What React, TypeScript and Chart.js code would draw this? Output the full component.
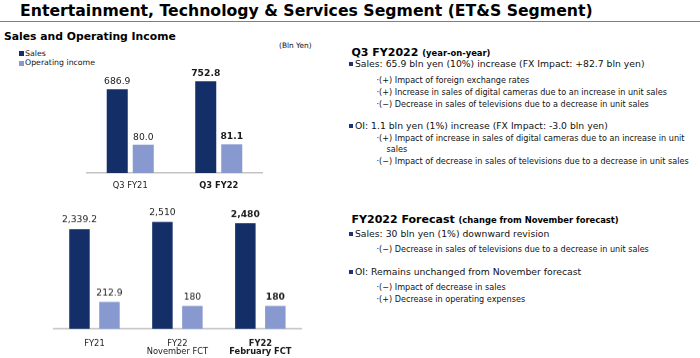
import React, { useEffect, useRef } from "react";
import { Chart, registerables } from "chart.js";

Chart.register(...registerables);

// ---------- data ----------
const seriesNames = ["Sales", "Operating income"];

const quarterCategories = ["Q3 FY21", "Q3 FY22"];
const quarterSales = [686.9, 752.8];
const quarterOI = [80.0, 81.1];
const quarterDecimals = [1, 1];
const quarterHighlight = 1;

const yearCategories = [["FY21"], ["FY22", "November FCT"], ["FY22", "February FCT"]];
const yearSales = [2339.2, 2510, 2480];
const yearOI = [212.9, 180, 180];
const yearDecimals = [1, 0, 0];
const yearHighlight = 2;

// ---------- styles ----------
const SALES_COLOR = "#142f68";
const OI_COLOR = "#8899d0";
const BULLET_COLOR = "#1c3471";
const MAIN_FONT = '"DejaVu Sans", Verdana, sans-serif';

function makeValueLabelPlugin(decimals: number[], highlight: number, size: number, offset: number) {
  return {
    id: "valueLabels",
    afterDatasetsDraw(chart: any) {
      const ctx = chart.ctx;
      chart.data.datasets.forEach((ds: any, di: number) => {
        const meta = chart.getDatasetMeta(di);
        meta.data.forEach((bar: any, i: number) => {
          const v = ds.data[i] as number;
          const d = decimals[i];
          const text = v.toLocaleString("en-US", { minimumFractionDigits: d, maximumFractionDigits: d });
          ctx.save();
          ctx.font = `${i === highlight ? "bold " : ""}${size}px ${MAIN_FONT}`;
          ctx.fillStyle = "#1a1a1a";
          ctx.textAlign = "center";
          ctx.textBaseline = "alphabetic";
          ctx.fillText(text, bar.x, bar.y - offset);
          ctx.restore();
        });
      });
    },
  };
}

type BarProps = {
  left: number;
  top: number;
  width: number;
  height: number;
  axisHeight: number;
  labels: any[];
  sales: number[];
  oi: number[];
  salesMax: number;
  oiMax: number;
  catPct: number;
  barPct: number;
  decimals: number[];
  highlight: number;
  tickPad: number;
  tickSize: number;
  tickLineHeight: number;
  labelSize: number;
  labelOffset: number;
};

function BarChart(p: BarProps) {
  const ref = useRef<HTMLCanvasElement | null>(null);
  useEffect(() => {
    if (!ref.current) return;
    const chart = new Chart(ref.current, {
      type: "bar",
      data: {
        labels: p.labels,
        datasets: [
          {
            label: seriesNames[0],
            data: p.sales,
            backgroundColor: SALES_COLOR,
            yAxisID: "y",
            categoryPercentage: p.catPct,
            barPercentage: p.barPct,
          },
          {
            label: seriesNames[1],
            data: p.oi,
            backgroundColor: OI_COLOR,
            yAxisID: "y1",
            categoryPercentage: p.catPct,
            barPercentage: p.barPct,
          },
        ],
      },
      options: {
        responsive: false,
        animation: false,
        layout: { padding: 0 },
        plugins: { legend: { display: false }, tooltip: { enabled: false }, title: { display: false } },
        scales: {
          x: {
            grid: { display: false, drawTicks: false },
            border: { display: true, color: "#c4c4c4", width: 1.5 },
            ticks: {
              padding: p.tickPad,
              color: "#1a1a1a",
              maxRotation: 0,
              autoSkip: false,
              font: (ctx: any) => ({
                family: MAIN_FONT,
                size: p.tickSize,
                lineHeight: p.tickLineHeight,
                weight: ctx.index === p.highlight ? "bold" : "normal",
              }),
            },
            afterFit: (scale: any) => {
              scale.height = p.axisHeight;
            },
          },
          y: { display: false, min: 0, max: p.salesMax },
          y1: { display: false, min: 0, max: p.oiMax, position: "right" },
        },
      },
      plugins: [makeValueLabelPlugin(p.decimals, p.highlight, p.labelSize, p.labelOffset)],
    } as any);
    return () => chart.destroy();
  }, []);
  return (
    <canvas
      ref={ref}
      width={p.width}
      height={p.height}
      style={{ position: "absolute", left: p.left, top: p.top, width: p.width, height: p.height }}
    />
  );
}

function Line(props: {
  x: number;
  cy: number;
  size: number;
  lh?: number;
  bold?: boolean;
  children: any;
  style?: any;
}) {
  const lh = props.lh ?? 14;
  return (
    <div
      style={{
        position: "absolute",
        left: props.x,
        top: props.cy - lh / 2,
        height: lh,
        lineHeight: `${lh}px`,
        fontSize: props.size,
        fontFamily: MAIN_FONT,
        fontWeight: props.bold ? "bold" : "normal",
        whiteSpace: "nowrap",
        color: "#111",
        ...props.style,
      }}
    >
      {props.children}
    </div>
  );
}

function Bullet({ x, cy }: { x: number; cy: number }) {
  return (
    <div
      style={{ position: "absolute", left: x, top: cy - 2, width: 4, height: 4, background: BULLET_COLOR }}
    />
  );
}

const MAIN = 9.25;
const SUB = 8.1;
const HEAD = 11;
const HEAD_SMALL = 8.4;

export default function App() {
  return (
    <div
      style={{
        position: "absolute",
        left: 0,
        top: 0,
        width: 700,
        height: 358,
        overflow: "hidden",
        background: "#fff",
        fontFamily: MAIN_FONT,
      }}
    >
      {/* title */}
      <Line x={20} cy={10.5} size={15.7} lh={20} bold style={{ color: "#000" }}>
        Entertainment, Technology &amp; Services Segment (ET&amp;S Segment)
      </Line>
      <div style={{ position: "absolute", left: 0, top: 20.5, width: 700, height: 1, background: "#808080" }} />

      {/* left heading */}
      <Line x={4} cy={37} size={10.8} bold style={{ color: "#000" }}>
        Sales and Operating Income
      </Line>
      <Line x={279} cy={46} size={7.4} lh={10}>
        (Bln Yen)
      </Line>

      {/* legend */}
      <div style={{ position: "absolute", left: 19, top: 51.2, width: 5, height: 5, background: SALES_COLOR }} />
      <Line x={25} cy={53.7} size={7.8} lh={10}>
        {seriesNames[0]}
      </Line>
      <div style={{ position: "absolute", left: 19, top: 60.8, width: 5, height: 5, background: OI_COLOR }} />
      <Line x={25} cy={63.3} size={7.8} lh={10}>
        {seriesNames[1]}
      </Line>

      {/* top chart: chart area x 86..263, y 51..173 */}
      <BarChart
        left={86}
        top={51}
        width={177}
        height={122 + 27}
        axisHeight={27}
        labels={quarterCategories}
        sales={quarterSales}
        oi={quarterOI}
        salesMax={1000}
        oiMax={345}
        catPct={0.588}
        barPct={0.808}
        decimals={quarterDecimals}
        highlight={quarterHighlight}
        tickPad={8}
        tickSize={8.3}
        tickLineHeight={1.2}
        labelSize={9.2}
        labelOffset={5}
      />

      {/* bottom chart: chart area x 53..302, y 201..328.7 */}
      <BarChart
        left={53}
        top={201}
        width={249}
        height={127.7 + 29}
        axisHeight={29}
        labels={yearCategories}
        sales={yearSales}
        oi={yearOI}
        salesMax={3000}
        oiMax={1010}
        catPct={0.723}
        barPct={0.683}
        decimals={yearDecimals}
        highlight={yearHighlight}
        tickPad={10.5}
        tickSize={8.3}
        tickLineHeight={1.0}
        labelSize={9.2}
        labelOffset={6.5}
      />

      {/* right column: Q3 FY2022 */}
      <Line x={351.5} cy={52.5} size={HEAD} bold style={{ color: "#000" }}>
        Q3 FY2022 <span style={{ fontSize: HEAD_SMALL }}>(year-on-year)</span>
      </Line>
      <Bullet x={348.5} cy={63.8} />
      <Line x={355} cy={63.5} size={MAIN}>
        Sales: 65.9 bln yen (10%) increase (FX Impact: +82.7 bln yen)
      </Line>
      <Line x={376.5} cy={79.5} size={SUB}>
        ·(+) Impact of foreign exchange rates
      </Line>
      <Line x={376.5} cy={91.5} size={SUB}>
        ·(+) Increase in sales of digital cameras due to an increase in unit sales
      </Line>
      <Line x={376.5} cy={103.5} size={SUB}>
        ·(−) Decrease in sales of televisions due to a decrease in unit sales
      </Line>

      <Bullet x={348.5} cy={126.3} />
      <Line x={355} cy={126} size={MAIN}>
        OI: 1.1 bln yen (1%) increase (FX Impact: -3.0 bln yen)
      </Line>
      <Line x={376.5} cy={138} size={SUB}>
        ·(+) Impact of increase in sales of digital cameras due to an increase in unit
      </Line>
      <Line x={386.5} cy={149} size={SUB}>
        sales
      </Line>
      <Line x={376.5} cy={161} size={SUB}>
        ·(−) Impact of decrease in sales of televisions due to a decrease in unit sales
      </Line>

      {/* right column: FY2022 Forecast */}
      <Line x={351.5} cy={220} size={HEAD} bold style={{ color: "#000" }}>
        FY2022 Forecast <span style={{ fontSize: HEAD_SMALL }}>(change from November forecast)</span>
      </Line>
      <Bullet x={348.5} cy={233.8} />
      <Line x={355} cy={233.5} size={MAIN}>
        Sales: 30 bln yen (1%) downward revision
      </Line>
      <Line x={376.5} cy={248.5} size={SUB}>
        ·(−) Decrease in sales of televisions due to a decrease in unit sales
      </Line>

      <Bullet x={348.5} cy={272.3} />
      <Line x={355} cy={272} size={MAIN}>
        OI: Remains unchanged from November forecast
      </Line>
      <Line x={376.5} cy={286.5} size={SUB}>
        ·(−) Impact of decrease in sales
      </Line>
      <Line x={376.5} cy={299} size={SUB}>
        ·(+) Decrease in operating expenses
      </Line>
    </div>
  );
}
